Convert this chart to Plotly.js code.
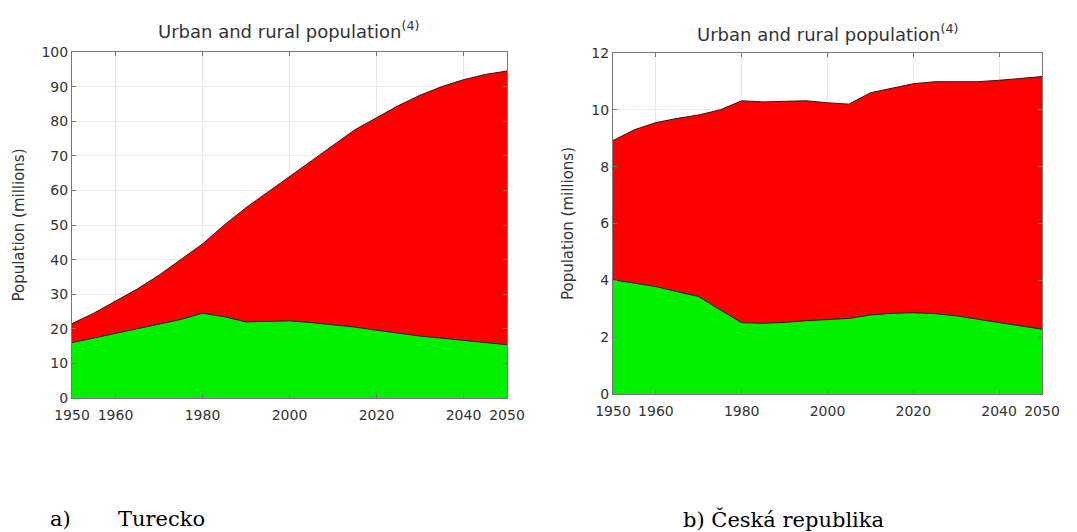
<!DOCTYPE html>
<html>
<head>
<meta charset="utf-8">
<script src="https://cdn.plot.ly/plotly-3.0.1.min.js"></script>
<style>
  html, body { margin: 0; padding: 0; background: #fff; }
  #chart { width: 1077px; height: 532px; }
</style>
</head>
<body>
<div id="chart"></div>
<script>
// ---- Data ----
const years = [1950,1955,1960,1965,1970,1975,1980,1985,1990,1995,2000,2005,2010,2015,2020,2025,2030,2035,2040,2045,2050];

// a) Turecko
const turkeyTotal = [21.5,24.5,28,31.5,35.5,40,44.5,50,55,59.5,64,68.5,73,77.5,81,84.5,87.5,90,92,93.5,94.5];
const turkeyRural = [16,17.3,18.7,20,21.2,22.7,24.5,23.5,22,22.2,22.3,21.8,21.2,20.5,19.6,18.7,17.9,17.3,16.7,16.1,15.4];

// b) Česká republika
const czTotal = [8.92,9.3,9.55,9.7,9.82,10.0,10.32,10.28,10.3,10.32,10.25,10.2,10.6,10.76,10.92,10.99,11.0,10.99,11.04,11.1,11.17];
const czRural = [4.02,3.9,3.78,3.6,3.43,2.96,2.51,2.49,2.52,2.58,2.63,2.66,2.78,2.84,2.86,2.83,2.75,2.63,2.52,2.4,2.28];

const xTickVals = [1950,1960,1980,2000,2020,2040,2050];
const chartTitle = 'Urban and rural population<sup>(4)</sup>';
const yTitle = 'Population (millions)';
const captionA1 = 'a)';
const captionA2 = 'Turecko';
const captionB = 'b) Česká republika';

// ---- Styles ----
const RED = '#ff0000';
const GREEN = '#00f000';
const EDGE = '#2a1a1a';
const FONT = 'DejaVu Sans, Liberation Sans, sans-serif';
const SERIF = 'DejaVu Serif, Liberation Serif, serif';

function areaTrace(y, color, xa, ya) {
  return {
    x: years, y: y, type: 'scatter', mode: 'lines',
    fill: 'tozeroy', fillcolor: color,
    line: {color: EDGE, width: 1},
    xaxis: xa, yaxis: ya, hoverinfo: 'x+y', showlegend: false
  };
}

const data = [
  areaTrace(turkeyTotal, RED, 'x', 'y'),
  areaTrace(turkeyRural, GREEN, 'x', 'y'),
  areaTrace(czTotal, RED, 'x2', 'y2'),
  areaTrace(czRural, GREEN, 'x2', 'y2')
];

function xAxis(domain, anchor) {
  return {
    domain: domain, anchor: anchor, range: [1950, 2050],
    tickvals: xTickVals, ticktext: xTickVals.map(String),
    showgrid: true, gridcolor: '#e8e8e8', gridwidth: 1,
    zeroline: false, showline: true, linecolor: '#777', linewidth: 1,
    mirror: 'allticks', ticks: 'inside', ticklen: 4, tickcolor: '#777',
    ticklabelstandoff: 4,
    tickfont: {family: FONT, size: 14, color: '#333'}
  };
}
function yAxis(domain, anchor, range, dtick, standoff) {
  return {
    domain: domain, anchor: anchor, range: range, dtick: dtick, tick0: 0,
    showgrid: true, gridcolor: '#ececec', gridwidth: 1,
    zeroline: false, showline: true, linecolor: '#777', linewidth: 1,
    mirror: 'allticks', ticks: 'inside', ticklen: 4, tickcolor: '#777',
    tickfont: {family: FONT, size: 14, color: '#333'},
    title: {text: yTitle, font: {family: FONT, size: 15, color: '#333'}, standoff: standoff},
    automargin: false
  };
}

const W = 1077, H = 532;
const layout = {
  width: W, height: H,
  margin: {l: 0, r: 0, t: 0, b: 0},
  paper_bgcolor: '#fff', plot_bgcolor: '#fff',
  showlegend: false,
  xaxis: xAxis([72/W, 507/W], 'y'),
  yaxis: yAxis([1-398/H, 1-52/H], 'x', [0, 100], 10, 13),
  xaxis2: xAxis([613/W, 1042/W], 'y2'),
  yaxis2: yAxis([1-394/H, 1-53/H], 'x2', [0, 12], 2, 14),
  annotations: [
    {text: chartTitle, xref: 'paper', yref: 'paper', x: 288/W, y: 1-30/H,
     xanchor: 'center', yanchor: 'middle', showarrow: false,
     font: {family: FONT, size: 18, color: '#333'}},
    {text: chartTitle, xref: 'paper', yref: 'paper', x: 827/W, y: 1-33/H,
     xanchor: 'center', yanchor: 'middle', showarrow: false,
     font: {family: FONT, size: 18, color: '#333'}},
    {text: captionA1, xref: 'paper', yref: 'paper', x: 48/W, y: 1-519/H,
     xanchor: 'left', yanchor: 'middle', showarrow: false,
     font: {family: SERIF, size: 21, color: '#000'}},
    {text: captionA2, xref: 'paper', yref: 'paper', x: 116/W, y: 1-519/H,
     xanchor: 'left', yanchor: 'middle', showarrow: false,
     font: {family: SERIF, size: 21, color: '#000'}},
    {text: captionB, xref: 'paper', yref: 'paper', x: 681/W, y: 1-519/H,
     xanchor: 'left', yanchor: 'middle', showarrow: false,
     font: {family: SERIF, size: 21, color: '#000'}}
  ]
};

Plotly.newPlot('chart', data, layout, {displayModeBar: false, staticPlot: true});
</script>
</body>
</html>
